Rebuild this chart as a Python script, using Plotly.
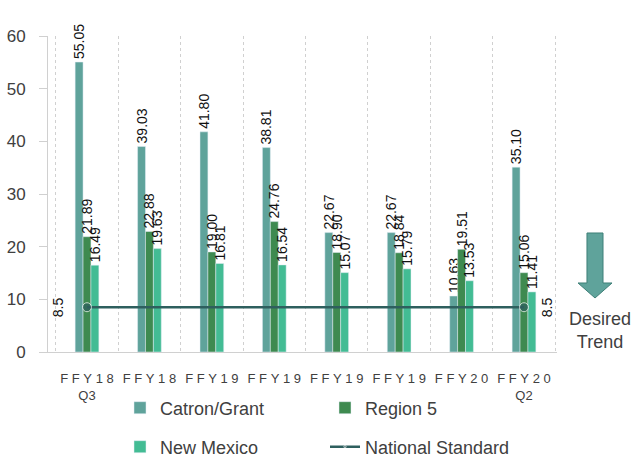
import plotly.graph_objects as go

# quarters (tick labels as they show in the chart)
quarters = ["FFY18 Q3", "FFY18 Q4", "FFY19 Q1", "FFY19 Q2",
            "FFY19 Q3", "FFY19 Q4", "FFY20 Q1", "FFY20 Q2"]
tick_text = ["FFY18<br>Q3", "FFY18", "FFY19", "FFY19",
             "FFY19", "FFY19", "FFY20", "FFY20<br>Q2"]

catron_grant = [55.05, 39.03, 41.80, 38.81, 22.67, 22.67, 10.63, 35.10]
region5 = [21.89, 22.88, 19.00, 24.76, 18.90, 18.84, 19.51, 15.06]
new_mexico = [16.49, 19.63, 16.81, 16.54, 15.07, 15.79, 13.53, 11.41]
national_std = [8.5] * 8

TXT = "#404040"
FONT = "Liberation Sans"
W, H = 632, 458
L, R, T, B = 48, 75, 36, 106

# spread the tick letters out like the source rendering
def spaced(s):
    first, *rest = s.split("<br>")
    out = "\u00a0".join(first)
    return "<br>".join([out] + rest)

fig = go.Figure()

bar_series = [
    ("Catron/Grant", catron_grant, "#5fa39b", "legend"),
    ("Region 5", region5, "#3e8a50", "legend"),
    ("New Mexico", new_mexico, "#43bc94", "legend2"),
]
for name, vals, col, lg in bar_series:
    fig.add_trace(go.Bar(
        x=quarters, y=vals, name=name, marker_color=col,
        text=[f"{v:.2f}" for v in vals], textposition="outside",
        textangle=-90, constraintext="none", cliponaxis=False,
        textfont=dict(size=14, color="#111111", family=FONT),
        legend=lg,
    ))

# national standard line, markers only at the ends
sizes = [9] + [0] * (len(quarters) - 2) + [9]
fig.add_trace(go.Scatter(
    x=quarters, y=national_std, name="National Standard", mode="lines+markers",
    line=dict(color="#2e5f5e", width=2.5),
    marker=dict(size=sizes, color="#2e5f5e"),
    legend="legend2", cliponaxis=False,
))

for xq, shift in [(quarters[0], -29), (quarters[-1], 23)]:
    fig.add_annotation(x=xq, y=national_std[0], text="8.5", showarrow=False,
                       textangle=-90, xshift=shift,
                       font=dict(size=14, color="#111111", family=FONT))

# pixel -> paper helpers
def pxx(x):
    return (x - L) / (W - L - R)

def pxy(y):
    return (H - B - y) / (H - T - B)

# desired trend arrow
arrow_pts = [(587, 233), (603, 233), (603, 283), (612, 283), (595, 298),
             (578, 283), (587, 283)]
path = "M " + " L ".join(f"{pxx(x):.4f},{pxy(y):.4f}" for x, y in arrow_pts) + " Z"
fig.add_shape(type="path", path=path, xref="paper", yref="paper",
              fillcolor="#5fa39b", line=dict(color="#3f7f78", width=1))
fig.add_annotation(x=pxx(600), y=pxy(330), xref="paper", yref="paper",
                   xanchor="center", yanchor="middle",
                   text="Desired<br>Trend", showarrow=False,
                   font=dict(size=18, color=TXT, family=FONT))

leg_common = dict(orientation="h", xref="container", yref="container",
                  xanchor="left", yanchor="middle", entrywidth=160,
                  font=dict(size=18, color=TXT, family=FONT),
                  bgcolor="rgba(0,0,0,0)")

fig.update_layout(
    width=W, height=H,
    margin=dict(l=L, r=R, t=T, b=B, autoexpand=False),
    plot_bgcolor="white", paper_bgcolor="white",
    barmode="group", bargap=0.62, bargroupgap=0,
    font=dict(family=FONT, color=TXT),
    legend=dict(x=120 / W, y=1 - 408 / H, **leg_common),
    legend2=dict(x=120 / W, y=1 - 447 / H, **leg_common),
    xaxis=dict(tickvals=quarters, ticktext=[spaced(t) for t in tick_text],
               tickson="boundaries", ticklabelstandoff=14, tickangle=0,
               showgrid=True, gridcolor="#d0d0d0", griddash="dot",
               showline=True, linecolor="#d0d0d0", ticks="", automargin=False,
               tickfont=dict(size=13, color=TXT, family=FONT)),
    yaxis=dict(range=[0, 60], dtick=10, showgrid=False, zeroline=False,
               showline=True, linecolor="#d0d0d0", ticks="outside",
               ticklen=8, tickcolor="#d0d0d0", automargin=False,
               ticklabelstandoff=10,
               tickfont=dict(size=17, color=TXT, family=FONT)),
)

fig.write_html("out.html", config={"displayModeBar": False},
               post_script="document.body.style.margin='0';")
